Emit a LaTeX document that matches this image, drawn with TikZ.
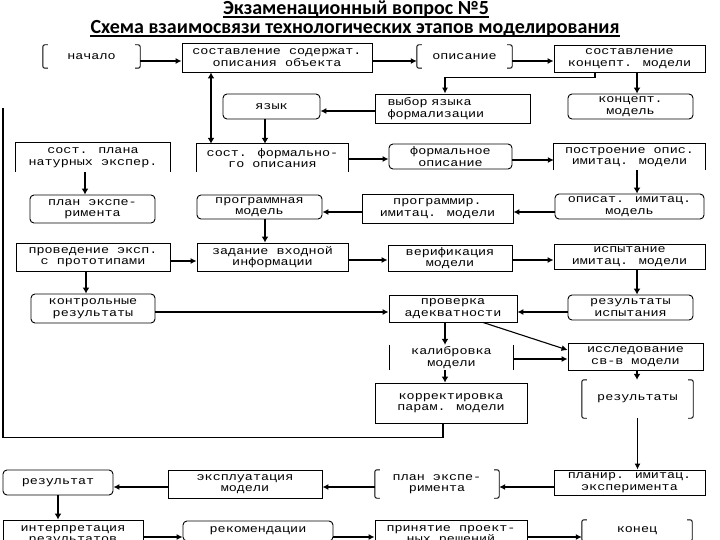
\documentclass[tikz,border=0pt]{standalone}
\usepackage{fontspec}
\setmainfont{Liberation Serif}
\newfontfamily\boxfont{Liberation Mono}[FakeStretch=1.22]
\newfontfamily\titlefont{Carlito}
\usetikzlibrary{arrows.meta}

\tikzset{
  stage/.style={font=\boxfont\fontsize{11}{11.5}\selectfont, inner sep=0pt, align=center},
  plainbox/.style={stage, draw, line width=0.9pt},
  roundbox/.style={stage, draw, line width=0.9pt, rounded corners=4pt},
  boxsize/.style n args={2}{minimum width=#1pt, minimum height=#2pt},
  boxline/.style={line width=0.9pt},
  heading/.style={font=\titlefont\bfseries\fontsize{20}{20}\selectfont, inner sep=0pt, anchor=base},
  flow/.style={-{Latex[length=6pt,width=6pt]}, line width=1.1pt},
  heavyflow/.style={-{Latex[length=6pt,width=7pt]}, line width=2.6pt},
}

% sides of the open stages
\newcommand{\sidebrackets}[1]{%
  \draw[boxline, rounded corners=2pt] ([xshift=5pt]#1.north west) -- (#1.north west) -- (#1.south west) -- ([xshift=5pt]#1.south west);
  \draw[boxline, rounded corners=2pt] ([xshift=-5pt]#1.north east) -- (#1.north east) -- (#1.south east) -- ([xshift=-5pt]#1.south east);}
\newcommand{\openbottom}[1]{%
  \draw[boxline] (#1.south west) -- (#1.north west) -- (#1.north east) -- (#1.south east);}

\begin{document}
\begin{tikzpicture}[x=1pt, y=-1pt]
    \useasboundingbox (0,0) rectangle (720,540);
    \clip (0,0) rectangle (720,540);
    % Title
    \node[heading] (head) at (356,15) {Экзаменационный вопрос №5};
    \node[heading] (subhead) at (355,33.5) {Схема взаимосвязи технологических этапов моделирования};
    \draw[line width=1.3pt] ([yshift=-2pt]head.base west) -- ([yshift=-2pt]head.base east);
    \draw[line width=1.3pt] ([yshift=-2.5pt]subhead.base west) -- ([yshift=-2.5pt]subhead.base east);
    % Row 1
    \node[stage, boxsize={97}{23}] (start) at (91.5,56.5) {начало};
    \node[plainbox, boxsize={190}{29}] (compose) at (277,57.5) {составление содержат.\\описания объекта};
    \node[stage, boxsize={95}{23}] (descr) at (464.5,56.5) {описание};
    \node[plainbox, boxsize={151}{27}] (concept) at (629.5,58.5) {составление\\концепт. модели};
    % Row 2
    \node[roundbox, boxsize={97}{25}] (lang) at (271.5,106.5) {язык};
    \node[plainbox, boxsize={155}{29}, align=left, text width=130pt] (choose) at (452.5,108.5) {выбор языка\\формализации};
    \node[roundbox, boxsize={125}{25}] (cmodel) at (630.5,106.5) {концепт.\\модель};
    % Row 3
    \node[stage, boxsize={154}{29}] (plannat) at (93,157.5) {сост. плана\\натурных экспер.};
    \node[stage, boxsize={151}{28}] (formal) at (272.5,158) {сост. формально-\\го описания};
    \node[roundbox, boxsize={123}{25}] (formdesc) at (450.5,156.5) {формальное\\описание};
    \node[stage, boxsize={151}{26}] (buildsim) at (629.5,157) {построение опис.\\имитац. модели};
    % Row 4
    \node[roundbox, boxsize={125}{28}] (planexp) at (92.5,209) {план экспе-\\римента};
    \node[roundbox, boxsize={125}{24}] (progmodel) at (259.5,207) {программная\\модель};
    \node[plainbox, boxsize={151}{29}] (progsim) at (437.5,208.5) {программир.\\имитац. модели};
    \node[roundbox, boxsize={149}{25}] (descsim) at (629.5,206.5) {описат. имитац.\\модель};
    % Row 5
    \node[plainbox, boxsize={154}{28}] (conduct) at (93,257) {проведение эксп.\\с прототипами};
    \node[plainbox, boxsize={151}{28}] (input) at (272.5,257) {задание входной\\информации};
    \node[plainbox, boxsize={124}{26}] (verify) at (450,258) {верификация\\модели};
    \node[plainbox, boxsize={151}{25}] (testsim) at (629.5,256.5) {испытание\\имитац. модели};
    % Row 6
    \node[roundbox, boxsize={124}{29}] (control) at (93,308.5) {контрольные\\результаты};
    \node[plainbox, boxsize={128}{27}] (adequacy) at (453,308.5) {проверка\\адекватности};
    \node[roundbox, boxsize={125}{25}] (testres) at (630.5,307.5) {результаты\\испытания};
    % Row 7
    \node[stage, boxsize={123}{25}] (calib) at (451.5,357.5) {калибровка\\модели};
    \node[plainbox, boxsize={135}{27}] (research) at (635.5,356.5) {исследование\\св-в модели};
    % Row 8
    \node[plainbox, boxsize={152}{40}] (correct) at (451,403) {корректировка\\парам. модели};
    \node[stage, boxsize={111}{38}] (results) at (637.5,399) {результаты};
    % Row 9
    \node[roundbox, boxsize={110}{25}] (result) at (58,482.5) {результат};
    \node[plainbox, boxsize={154}{28}] (exploit) at (245,484) {эксплуатация\\модели};
    \node[stage, boxsize={124}{28}] (planexp2) at (437,484) {план экспе-\\римента};
    \node[plainbox, boxsize={151}{25}] (plansim) at (629.5,482.5) {планир. имитац.\\эксперимента};
    % Row 10
    \node[plainbox, boxsize={140}{30}] (interp) at (73,535) {интерпретация\\результатов};
    \node[roundbox, boxsize={150}{20}] (recom) at (258,531) {рекомендации};
    \node[plainbox, boxsize={152}{30}] (decision) at (451,535) {принятие проект-\\ных решений};
    \node[stage, boxsize={110}{21}] (finish) at (637,530.5) {конец};
    \coordinate (loopend) at (3,108);
    % Open sides
    \sidebrackets{start}
    \sidebrackets{descr}
    \sidebrackets{results}
    \sidebrackets{planexp2}
    \sidebrackets{finish}
    \openbottom{plannat}
    \openbottom{formal}
    \openbottom{buildsim}
    \draw[boxline] (calib.north west) -- (calib.south west);
    \draw[boxline] (calib.north east) -- (calib.south east);
    % Arrows, upper part
    \draw[flow, line width=2pt] ([yshift=-4.5pt]start.east) -- ([yshift=-4.5pt]start.east -| compose.west);
    \draw[flow, line width=2pt] ([yshift=-3.5pt]compose.east) -- ([yshift=-3.5pt]compose.east -| descr.west);
    \draw[flow, line width=2pt] ([yshift=-4.5pt]descr.east) -- ([yshift=-4.5pt]descr.east -| concept.west);
    \draw[heavyflow, {Latex[length=6pt,width=7pt]}-{Latex[length=6pt,width=7pt]}] ([xshift=-66pt]compose.south) -- ([xshift=-66pt]compose.south |- formal.north);
    \draw[heavyflow] ([xshift=7.5pt]concept.south) -- ([xshift=7.5pt]concept.south |- cmodel.north);
    \draw[flow, line width=1.5pt] ([xshift=-34.5pt]concept.south) -- ++(0,5) -| ([xshift=-7.5pt]choose.north);
    \draw[flow] ([yshift=-2.5pt]choose.west) -- ([yshift=-2.5pt]choose.west -| lang.east);
    \draw[heavyflow] ([xshift=-6.5pt]lang.south) -- ([xshift=-6.5pt]lang.south |- formal.north);
    \draw[flow, line width=2pt] ([yshift=-1pt]formal.east) -- ([yshift=-1pt]formal.east -| formdesc.west);
    \draw[flow, line width=1.5pt] ([yshift=-3.5pt]formdesc.east) -- ([yshift=-3.5pt]formdesc.east -| buildsim.west);
    \draw[heavyflow] ([xshift=7.5pt]buildsim.south) -- ([xshift=7.5pt]buildsim.south |- descsim.north);
    \draw[flow, line width=2pt] ([yshift=-5.5pt]descsim.west) -- ([yshift=-5.5pt]descsim.west -| progsim.east);
    \draw[flow, line width=2pt] ([yshift=-3.5pt]progsim.west) -- ([yshift=-3.5pt]progsim.west -| progmodel.east);
    \draw[heavyflow] ([xshift=5.5pt]progmodel.south) -- ([xshift=5.5pt]progmodel.south |- input.north);
    \draw[heavyflow] ([xshift=-8pt]plannat.south) -- ([xshift=-8pt]plannat.south |- planexp.north);
    % Arrows, middle part
    \draw[flow] ([yshift=-4pt]conduct.east) -- ([yshift=-4pt]conduct.east -| input.west);
    \draw[flow] ([yshift=-3pt]input.east) -- ([yshift=-3pt]input.east -| verify.west);
    \draw[flow] ([yshift=-2pt]verify.east) -- ([yshift=-2pt]verify.east -| testsim.west);
    \draw[heavyflow] ([xshift=-7pt]conduct.south) -- ([xshift=-7pt]conduct.south |- control.north);
    \draw[flow] ([yshift=-3.5pt]control.east) -- ([yshift=-3.5pt]control.east -| adequacy.west);
    \draw[heavyflow] ([xshift=7.5pt]testsim.south) -- ([xshift=7.5pt]testsim.south |- testres.north);
    \draw[flow] ([yshift=-4.5pt]testres.west) -- ([yshift=-4.5pt]testres.west -| adequacy.east);
    \draw[heavyflow] ([xshift=-8pt]adequacy.south) -- ([xshift=-8pt]adequacy.south |- calib.north);
    \draw[flow] ([xshift=30pt]adequacy.south) -- ([yshift=6.5pt]research.west);
    \draw[flow] ([yshift=-1.5pt]calib.east) -- ([yshift=-1.5pt]calib.east -| research.west);
    \draw[heavyflow] ([xshift=1.5pt]research.south) -- ([xshift=1.5pt]research.south |- results.north);
    \draw[heavyflow] ([xshift=-6.5pt]calib.south) -- ([xshift=-6.5pt]calib.south |- correct.north);
    \draw[line width=1.1pt] ([xshift=-8pt]correct.south) -- ++(0,14) -| (loopend);
    % Arrows, lower part
    \draw[flow, line width=1.5pt] (results.south) -- (results.south |- plansim.north);
    \draw[flow, line width=2pt] ([yshift=-4.5pt]plansim.west) -- ([yshift=-4.5pt]plansim.west -| planexp2.east);
    \draw[flow, line width=2pt] ([yshift=-3pt]planexp2.west) -- ([yshift=-3pt]planexp2.west -| exploit.east);
    \draw[flow, line width=2pt] ([yshift=-3pt]exploit.west) -- ([yshift=-3pt]exploit.west -| result.east);
    \draw[heavyflow] (result.south) -- (result.south |- interp.north);
    \draw[flow] ([yshift=-2pt]interp.east) -- ([yshift=-2pt]interp.east -| recom.west);
    \draw[flow] ([yshift=-6pt]recom.east) -- ([yshift=-6pt]recom.east -| decision.west);
    \draw[flow] ([yshift=-2pt]decision.east) -- ([yshift=-2pt]decision.east -| finish.west);
\end{tikzpicture}
\end{document}
